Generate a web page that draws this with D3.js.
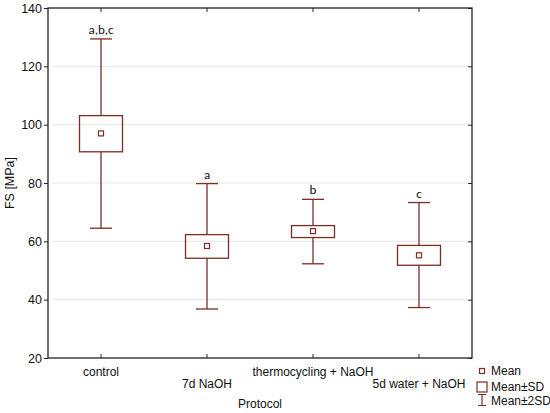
<!DOCTYPE html>
<html>
<head>
<meta charset="utf-8">
<script src="https://cdn.jsdelivr.net/npm/d3@7"></script>
<style>
  body { margin: 0; background: #fff; }
  svg { display: block; font-family: "Liberation Sans", Arial, sans-serif; }
</style>
</head>
<body>
<div id="chart"></div>
<script>
/** data */
const groups = ["control", "7d NaOH", "thermocycling + NaOH", "5d water + NaOH"];
const means = [97.0, 58.4, 63.5, 55.2];
const sdLow = [90.7, 54.2, 61.3, 51.8];
const sdHigh = [103.1, 62.3, 65.4, 58.6];
const sd2Low = [64.5, 36.8, 52.3, 37.3];
const sd2High = [129.4, 79.8, 74.4, 73.3];
const letters = ["a,b,c", "a", "b", "c"];
const yTicks = [20, 40, 60, 80, 100, 120, 140];

const col = "#7b2d26";

/** canvas */
let width = 550, height = 413;
let margin = { top: 8, right: 78, bottom: 55, left: 48 };
let draw_width = width - margin.left - margin.right;
let draw_height = height - margin.top - margin.bottom;

let svg = d3.select('#chart').append('svg')
    .attr('width', width)
    .attr('height', height);

let canvas = svg.append('g')
    .attr('transform', `translate(${margin.left}, ${margin.top})`);

/** scales */
let xScale = d3.scaleBand()
    .domain(groups)
    .range([0, draw_width]);

let yScale = d3.scaleLinear()
    .domain([20, 140])
    .range([draw_height, 0]);

/** grid */
canvas.append('g')
    .selectAll('line')
    .data(yTicks.filter(d => d > 20 && d < 140))
    .enter().append('line')
    .attr('x1', 4)
    .attr('x2', draw_width - 4)
    .attr('y1', d => yScale(d))
    .attr('y2', d => yScale(d))
    .attr('stroke', '#e6e6e6')
    .attr('stroke-width', 1);

/** axes */
let yAxis = d3.axisLeft(yScale).tickValues(yTicks).tickSize(4).tickSizeOuter(0);
let yAxisR = d3.axisRight(yScale).tickValues(yTicks).tickSize(-4).tickSizeOuter(0).tickFormat('');
let xAxis = d3.axisBottom(xScale).tickSize(-4).tickSizeOuter(0);
let xAxisT = d3.axisTop(xScale).tickSize(-4).tickSizeOuter(0).tickFormat('');

let gy = canvas.append('g').call(yAxis);
canvas.append('g').attr('transform', `translate(${draw_width},0)`).call(yAxisR);
let gx = canvas.append('g').attr('transform', `translate(0,${draw_height})`).call(xAxis);
canvas.append('g').call(xAxisT);

canvas.selectAll('.domain').remove();
canvas.selectAll('.tick line').attr('stroke', '#222');

gy.selectAll('text')
    .attr('x', -6)
    .style('font-size', '12.5px')
    .attr('fill', '#111');

/** staggered category labels */
gx.selectAll('text')
    .attr('y', (d, i) => i % 2 === 0 ? 9 : 21)
    .style('font-size', '12px')
    .attr('fill', '#111');

/** frame */
canvas.append('rect')
    .attr('width', draw_width)
    .attr('height', draw_height)
    .attr('fill', 'none')
    .attr('stroke', '#222')
    .attr('stroke-width', 1.3);

/** axis titles */
svg.append('text')
    .attr('transform', `translate(14, ${margin.top + draw_height / 2}) rotate(-90)`)
    .attr('text-anchor', 'middle')
    .style('font-size', '12.5px')
    .attr('fill', '#111')
    .text('FS [MPa]');

svg.append('text')
    .attr('x', margin.left + draw_width / 2)
    .attr('y', 408)
    .attr('text-anchor', 'middle')
    .style('font-size', '12px')
    .attr('fill', '#111')
    .text('Protocol');

/** boxes */
let boxW = 43, capW = 22, meanW = 5;
let items = groups.map((g, i) => ({
    g: g, mean: means[i], lo: sdLow[i], hi: sdHigh[i],
    lo2: sd2Low[i], hi2: sd2High[i], letter: letters[i]
}));

let grp = canvas.selectAll('.box')
    .data(items)
    .enter().append('g')
    .attr('class', 'box')
    .attr('transform', d => `translate(${xScale(d.g) + xScale.bandwidth() / 2},0)`);

grp.append('line')
    .attr('y1', d => yScale(d.hi2)).attr('y2', d => yScale(d.hi))
    .attr('stroke', col).attr('stroke-width', 1.3);
grp.append('line')
    .attr('y1', d => yScale(d.lo)).attr('y2', d => yScale(d.lo2))
    .attr('stroke', col).attr('stroke-width', 1.3);
grp.append('line')
    .attr('x1', -capW / 2).attr('x2', capW / 2)
    .attr('y1', d => yScale(d.hi2)).attr('y2', d => yScale(d.hi2))
    .attr('stroke', col).attr('stroke-width', 1.3);
grp.append('line')
    .attr('x1', -capW / 2).attr('x2', capW / 2)
    .attr('y1', d => yScale(d.lo2)).attr('y2', d => yScale(d.lo2))
    .attr('stroke', col).attr('stroke-width', 1.3);
grp.append('rect')
    .attr('x', -boxW / 2)
    .attr('width', boxW)
    .attr('y', d => yScale(d.hi))
    .attr('height', d => yScale(d.lo) - yScale(d.hi))
    .attr('fill', 'none')
    .attr('stroke', col).attr('stroke-width', 1.3);
grp.append('rect')
    .attr('x', -meanW / 2)
    .attr('width', meanW)
    .attr('y', d => yScale(d.mean) - meanW / 2)
    .attr('height', meanW)
    .attr('fill', 'none')
    .attr('stroke', col).attr('stroke-width', 1.2);
grp.append('text')
    .attr('y', d => yScale(d.hi2) - 5)
    .attr('text-anchor', 'middle')
    .style('font-family', 'Carlito, "Noto Sans", sans-serif')
    .style('font-size', '13px')
    .attr('fill', '#111')
    .text(d => d.letter);

/** legend */
let legend = svg.append('g').attr('transform', 'translate(482, 0)');
legend.append('rect')
    .attr('x', -2.5).attr('y', 368.5).attr('width', 5).attr('height', 5)
    .attr('fill', 'none').attr('stroke', col).attr('stroke-width', 1.2);
legend.append('rect')
    .attr('x', -5).attr('y', 382).attr('width', 10).attr('height', 10)
    .attr('fill', 'none').attr('stroke', col).attr('stroke-width', 1.2);
legend.append('path')
    .attr('d', 'M-4,394.5H4M0,394.5V405.5M-4,405.5H4')
    .attr('fill', 'none').attr('stroke', col).attr('stroke-width', 1.2);
legend.selectAll('.ltext')
    .data(['Mean', 'Mean\u00b1SD', 'Mean\u00b12SD'])
    .enter().append('text')
    .attr('x', 9)
    .attr('y', (d, i) => [375, 391, 405][i])
    .style('font-size', '12px')
    .attr('fill', '#111')
    .text(d => d);
</script>
</body>
</html>
